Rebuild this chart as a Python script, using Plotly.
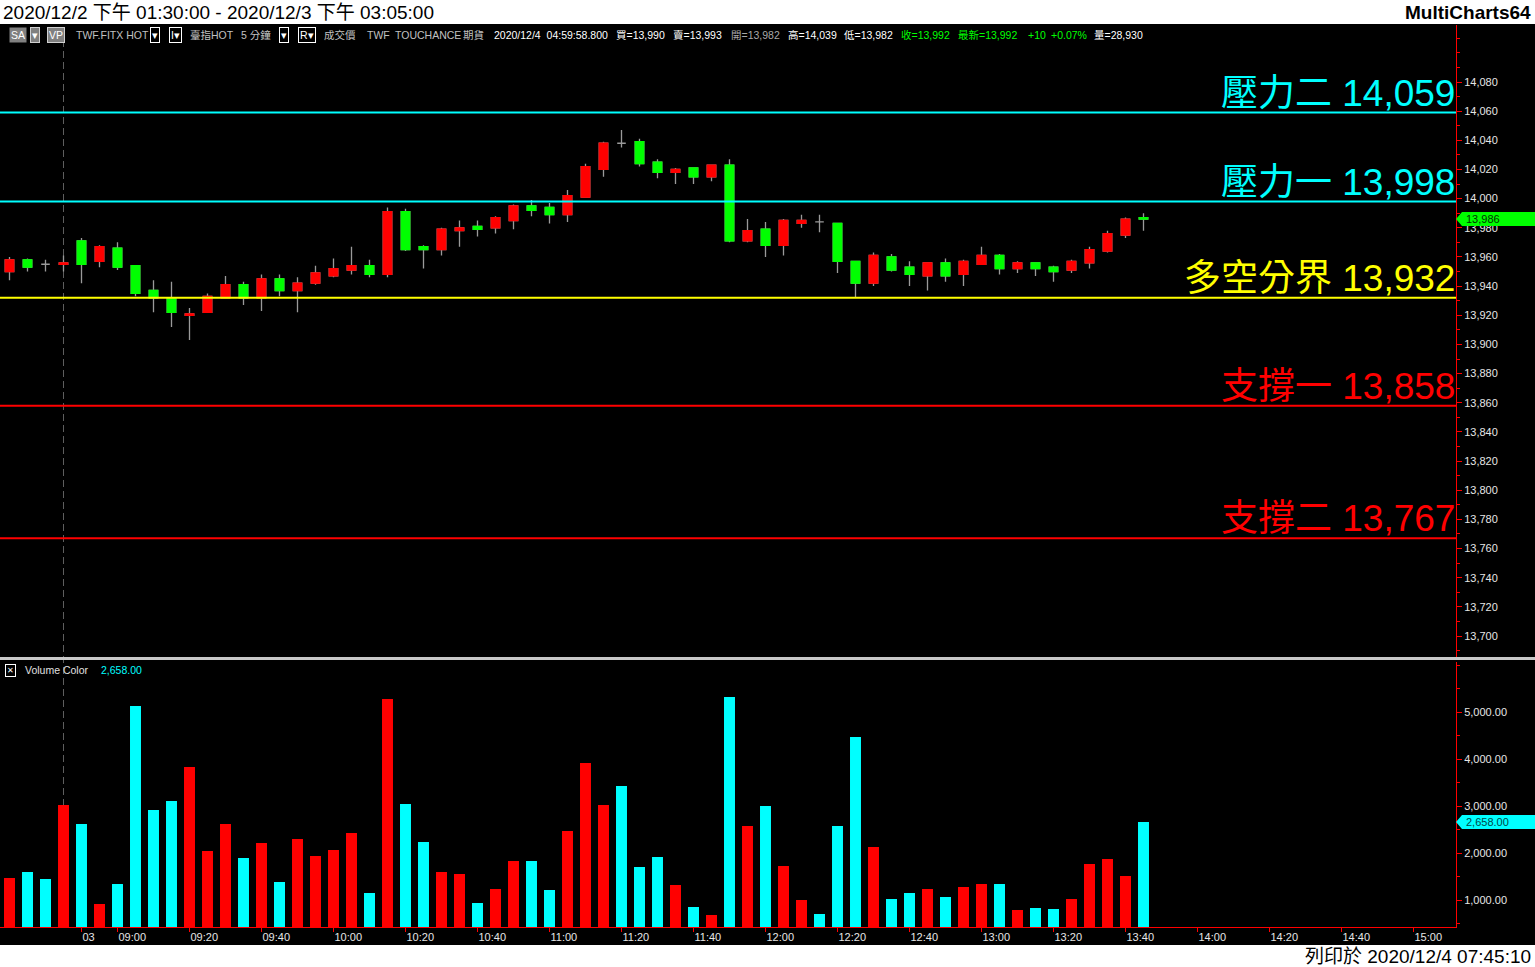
import plotly.graph_objects as go

# ---------------- data ----------------
open_ = [13950, 13958, 13955, 13955, 13971, 13957, 13966, 13954, 13937, 13932,
         13920, 13922, 13932, 13941, 13932, 13945, 13937, 13942, 13947, 13951,
         13954, 13948, 13991, 13967, 13965, 13978, 13981, 13980, 13985, 13995,
         13994, 13989, 14001, 14020, 14038, 14039, 14025, 14018, 14021, 14015,
         14023, 13971, 13979, 13968, 13983, 13984, 13983, 13957, 13942, 13960,
         13953, 13947, 13956, 13948, 13955, 13961, 13952, 13956, 13953, 13951,
         13956, 13964, 13975, 13987]
high = [13960, 13959, 13958, 13961, 13973, 13968, 13970, 13954, 13944, 13943,
        13925, 13935, 13947, 13943, 13948, 13948, 13946, 13954, 13959, 13967,
        13958, 13994, 13993, 13968, 13980, 13985, 13985, 13988, 13996, 13999,
        13997, 14006, 14024, 14039, 14047, 14041, 14027, 14021, 14021, 14023,
        14027, 13986, 13984, 13986, 13989, 13989, 13983, 13957, 13963, 13962,
        13957, 13956, 13959, 13958, 13967, 13962, 13957, 13956, 13954, 13958,
        13967, 13978, 13987, 13990]
low = [13944, 13950, 13950, 13950, 13942, 13953, 13951, 13933, 13922, 13912,
       13903, 13922, 13932, 13927, 13923, 13933, 13922, 13941, 13946, 13948,
       13946, 13946, 13964, 13952, 13961, 13967, 13974, 13976, 13979, 13988,
       13983, 13984, 14001, 14015, 14035, 14022, 14014, 14010, 14010, 14012,
       13970, 13970, 13960, 13961, 13980, 13977, 13949, 13932, 13940, 13950,
       13940, 13937, 13943, 13940, 13955, 13948, 13949, 13947, 13943, 13949,
       13952, 13963, 13973, 13978]
close = [13958, 13953, 13955, 13956, 13955, 13967, 13953, 13935, 13932, 13922,
         13921, 13933, 13941, 13932, 13945, 13937, 13942, 13949, 13952, 13954,
         13948, 13991, 13965, 13965, 13979, 13980, 13979, 13987, 13995, 13992,
         13989, 14002, 14022, 14038, 14038, 14024, 14018, 14020, 14015, 14023,
         13971, 13978, 13968, 13985, 13985, 13984, 13957, 13942, 13961, 13951,
         13948, 13956, 13947, 13957, 13961, 13952, 13956, 13952, 13950, 13957,
         13965, 13976, 13986, 13986]
volume = [1468, 1596, 1447, 3021, 2617, 915, 1340, 5128, 2915, 3106,
          3830, 2043, 2617, 1894, 2213, 1383, 2298, 1936, 2064, 2426,
          1149, 5277, 3043, 2234, 1596, 1553, 936, 1234, 1830, 1830,
          1213, 2468, 3915, 3021, 3426, 1702, 1915, 1319, 851, 681,
          5319, 2574, 3000, 1723, 1000, 702, 2574, 4468, 2128, 1021,
          1149, 1234, 1064, 1277, 1340, 1340, 787, 830, 809, 1021,
          1766, 1872, 1511, 2658]

# x-axis labels (bar index at which each label sits; 5-minute bars)
xtick_labels = ["03", "09:00", "09:20", "09:40", "10:00", "10:20", "10:40",
                "11:00", "11:20", "11:40", "12:00", "12:20", "12:40", "13:00",
                "13:20", "13:40", "14:00", "14:20", "14:40", "15:00"]
xtick_bars = [4] + [6 + 4 * k for k in range(19)]
session_break_bar = 3

price_ticks = list(range(13700, 14081, 20))
volume_ticks = [1000, 2000, 3000, 4000, 5000]

level_names = ["壓力二", "壓力一", "多空分界", "支撐一", "支撐二"]
level_values = [14059, 13998, 13932, 13858, 13767]

title_text = "2020/12/2 下午 01:30:00 - 2020/12/3 下午 03:05:00"
brand_text = "MultiCharts64"
printed_text = "列印於 2020/12/4 07:45:10"
volume_label = "Volume Color"

# ---------------- styling ----------------
W, H = 1535, 967
PLOT_W = 1456
FONT = "Liberation Sans, Arial, Noto Sans CJK TC, sans-serif"
level_colors = ["#00FFFF", "#00FFFF", "#FFFF00", "#FF0000", "#FF0000"]
UP, DOWN, WICK = "#FF0000", "#00FF00", "#9A9A9A"
VOL_UP, VOL_DOWN = "#FF0000", "#00FFFF"
AXIS_RED = "#FF0000"
LABEL_C = "#E6E6E6"


def py(px):  # pixel row -> paper y
    return 1 - px / H


def pxx(px):  # pixel column -> paper x
    return px / PLOT_W


n = len(close)
xs = list(range(n))

fig = go.Figure()

# wicks + doji crosses (gray)
fig.add_trace(go.Candlestick(
    x=xs, open=open_, high=high, low=low, close=close,
    increasing=dict(line=dict(color=WICK, width=1.3), fillcolor=WICK),
    decreasing=dict(line=dict(color=WICK, width=1.3), fillcolor=WICK),
    xaxis="x", yaxis="y", showlegend=False, hoverinfo="skip"))

# coloured bodies (non-doji bars)
bi = [i for i in xs if open_[i] != close[i]]
fig.add_trace(go.Candlestick(
    x=bi, open=[open_[i] for i in bi], close=[close[i] for i in bi],
    high=[max(open_[i], close[i]) for i in bi],
    low=[min(open_[i], close[i]) for i in bi],
    increasing=dict(line=dict(color=UP, width=1.3), fillcolor=UP),
    decreasing=dict(line=dict(color=DOWN, width=1.3), fillcolor=DOWN),
    xaxis="x", yaxis="y", showlegend=False, hoverinfo="skip"))

vol_colors = [VOL_UP if close[i] > open_[i] else VOL_DOWN for i in xs]
fig.add_trace(go.Bar(x=xs, y=volume, marker=dict(color=vol_colors, line=dict(width=0)),
                     width=0.61, xaxis="x2", yaxis="y2", showlegend=False, hoverinfo="skip"))

xr = [(0 - 9.5) / 18, (PLOT_W - 9.5) / 18]

shapes = []
annotations = []

# black canvas behind everything
shapes.append(dict(type="rect", xref="paper", yref="paper", x0=-0.01, x1=W / PLOT_W + 0.01,
                   y0=py(945), y1=py(24), fillcolor="#000000", line=dict(width=0), layer="below"))
# session separator
shapes.append(dict(type="line", xref="x", yref="paper", x0=session_break_bar, x1=session_break_bar,
                   y0=py(927), y1=py(25), line=dict(color="#5E5E5E", width=1, dash="7px,4px"),
                   layer="below"))
# panel separator
shapes.append(dict(type="line", xref="paper", yref="paper", x0=0, x1=W / PLOT_W, y0=py(658.5), y1=py(658.5),
                   line=dict(color="#C8C8C8", width=3)))

# support / resistance levels
for name, val, col in zip(level_names, level_values, level_colors):
    shapes.append(dict(type="line", xref="paper", yref="y", x0=0, x1=1, y0=val, y1=val,
                       line=dict(color=col, width=2)))
    annotations.append(dict(xref="paper", yref="y", x=1, y=val, xanchor="right", yanchor="bottom",
                            text=f"{name} {val:,}", showarrow=False, yshift=-3, xshift=1,
                            font=dict(family=FONT, size=37, color=col)))

# last price marker
last = close[-1]
shapes.append(dict(type="path", xref="paper", yref="y", xsizemode="pixel", ysizemode="pixel",
                   xanchor=1, yanchor=last, path="M0,0 L6,7 L82,7 L82,-7 L6,-7 Z",
                   fillcolor="#00FF00", line=dict(width=0)))
annotations.append(dict(xref="paper", yref="y", x=1, y=last, xshift=8, xanchor="left",
                        yanchor="middle", text=f"{last:,}", showarrow=False,
                        font=dict(family=FONT, size=11, color="#003300")))
# last volume marker
lv = volume[-1]
shapes.append(dict(type="path", xref="paper", yref="y2", xsizemode="pixel", ysizemode="pixel",
                   xanchor=1, yanchor=lv, path="M0,0 L6,7 L82,7 L82,-7 L6,-7 Z",
                   fillcolor="#00FFFF", line=dict(width=0)))
annotations.append(dict(xref="paper", yref="y2", x=1, y=lv, xshift=8, xanchor="left",
                        yanchor="middle", text=f"{lv:,.2f}", showarrow=False,
                        font=dict(family=FONT, size=11, color="#004848")))


def ann(px, pyy, text, color, size=11, xanchor="left", bg=None, border=None, family=FONT):
    d = dict(xref="paper", yref="paper", x=pxx(px), y=py(pyy), xanchor=xanchor, yanchor="middle",
             text=text, showarrow=False, font=dict(family=family, size=size, color=color),
             borderpad=1)
    if bg:
        d["bgcolor"] = bg
    if border:
        d["bordercolor"] = border
        d["borderwidth"] = 1
    annotations.append(d)


# title strip
ann(1, 12, title_text, "#000000", size=19)
ann(1533, 12, f"<b>{brand_text}</b>", "#000000", size=19, xanchor="right")
ann(1533, 956, printed_text, "#000000", size=19, xanchor="right")

# header info line
GRAY = "#C0C0C0"
header = [
    (9, "SA", "#FFFFFF", "#808080", None),
    (30, "▾", "#FFFFFF", "#808080", "#D0D0D0"),
    (47, "VP", "#FFFFFF", "#808080", "#D0D0D0"),
    (74, "TWF.FITX HOT", GRAY, None, None),
    (150, "▾", "#FFFFFF", None, "#FFFFFF"),
    (169, "I▾", "#FFFFFF", None, "#FFFFFF"),
    (188, "臺指HOT", GRAY, None, None),
    (239, "5 分鐘", GRAY, None, None),
    (279, "▾", "#FFFFFF", None, "#FFFFFF"),
    (298, "R▾", "#FFFFFF", None, "#FFFFFF"),
    (322, "成交價", GRAY, None, None),
    (365, "TWF", GRAY, None, None),
    (393, "TOUCHANCE", GRAY, None, None),
    (461, "期貨", GRAY, None, None),
    (492, "2020/12/4  04:59:58.800", "#FFFFFF", None, None),
    (614, "買=13,990", "#FFFFFF", None, None),
    (671, "賣=13,993", "#FFFFFF", None, None),
    (729, "開=13,982", "#A8A8A8", None, None),
    (786, "高=14,039", "#FFFFFF", None, None),
    (842, "低=13,982", "#FFFFFF", None, None),
    (899, "收=13,992", "#00FF00", None, None),
    (956, "最新=13,992", "#00FF00", None, None),
    (1026, "+10", "#00FF00", None, None),
    (1049, "+0.07%", "#00FF00", None, None),
    (1092, "量=28,930", "#FFFFFF", None, None),
]
for px, t, c, bg, bd in header:
    ann(px, 35, t, c, size=10.5, bg=bg, border=bd)

# volume panel legend
ann(5, 670, "✕", "#FFFFFF", size=8, border="#FFFFFF")
ann(23, 670, volume_label, "#E0E0E0", size=10.5)
ann(99, 670, f"{volume[-1]:,.2f}", "#00FFFF", size=10.5)

y1_dom = [py(657), py(25)]
y2_dom = [py(927), py(662)]
# axis ranges from pixel calibration
ppp = (636 - 82) / (14080 - 13700)
y1_range = [13700 - (657 - 636) / ppp, 14080 + (82 - 25) / ppp]
vpp = (900 - 712) / 4000.0
y2_range = [1000 - (927 - 900) / vpp, 5000 + (712 - 662) / vpp]

tickfont = dict(family=FONT, size=11, color=LABEL_C)

fig.update_layout(
    template="none",
    width=W, height=H,
    margin=dict(l=0, r=W - PLOT_W, t=0, b=0),
    paper_bgcolor="#FFFFFF", plot_bgcolor="#000000",
    showlegend=False, boxgap=0.32, bargap=0.3,
    xaxis=dict(domain=[0, 1], range=xr, anchor="y", showticklabels=False, ticks="",
               showgrid=False, zeroline=False, showline=False, rangeslider=dict(visible=False),
               automargin=False),
    xaxis2=dict(domain=[0, 1], range=xr, anchor="y2", matches="x", showgrid=False, zeroline=False,
                showline=True, linecolor=AXIS_RED, linewidth=1, ticks="outside", tickcolor=AXIS_RED,
                ticklen=4, tickvals=xtick_bars, ticktext=xtick_labels,
                ticklabelposition="outside right", tickfont=tickfont, automargin=False),
    yaxis=dict(domain=y1_dom, range=y1_range, anchor="x", side="right", showgrid=False,
               zeroline=False, showline=True, linecolor=AXIS_RED, linewidth=1, ticks="outside",
               tickcolor=AXIS_RED, ticklen=5, tickvals=price_ticks, tickformat=",",
               tickfont=tickfont, automargin=False,
               minor=dict(dtick=10, tick0=13700, ticklen=3, tickcolor=AXIS_RED, ticks="outside",
                          showgrid=False)),
    yaxis2=dict(domain=y2_dom, range=y2_range, anchor="x2", side="right", showgrid=False,
                zeroline=False, showline=True, linecolor=AXIS_RED, linewidth=1, ticks="outside",
                tickcolor=AXIS_RED, ticklen=5, tickvals=volume_ticks, tickformat=",.2f",
                tickfont=tickfont, automargin=False,
                minor=dict(dtick=500, tick0=0, ticklen=3, tickcolor=AXIS_RED, ticks="outside",
                           showgrid=False)),
    shapes=shapes, annotations=annotations,
)

fig.write_html("out.html", config={"displayModeBar": False},
               post_script="document.body.style.margin='0px';document.body.style.overflow='hidden';")
